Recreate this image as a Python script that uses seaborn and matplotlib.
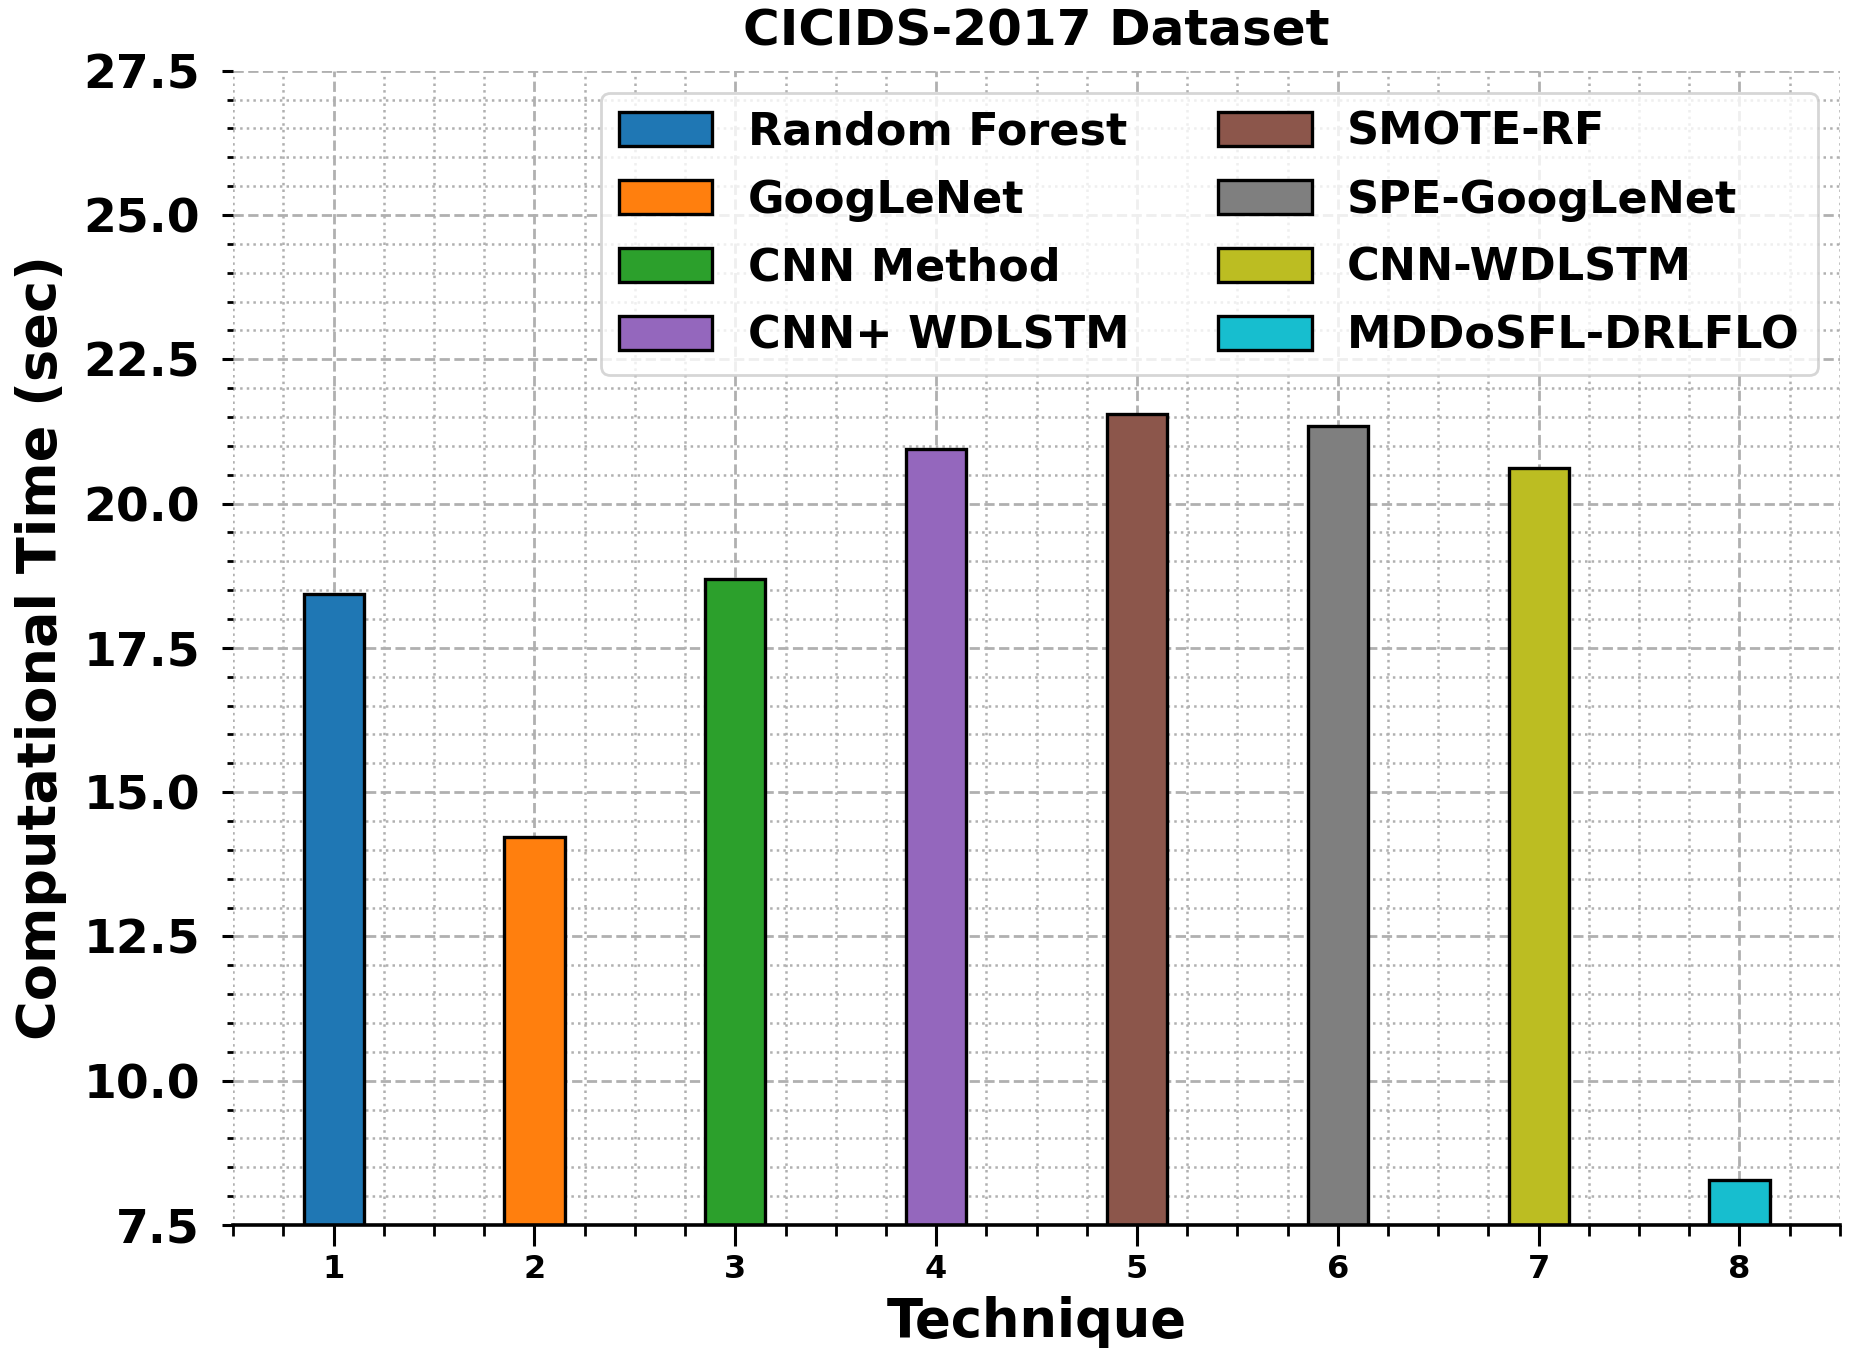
import matplotlib
matplotlib.use("Agg")
import matplotlib.pyplot as plt
from matplotlib.ticker import MultipleLocator
import seaborn as sns
import pandas as pd

# values
techniques = ["Random Forest", "GoogLeNet", "CNN Method", "CNN+ WDLSTM",
              "SMOTE-RF", "SPE-GoogLeNet", "CNN-WDLSTM", "MDDoSFL-DRLFLO"]
positions = [1, 2, 3, 4, 5, 6, 7, 8]
times = [18.44, 14.22, 18.69, 20.94, 21.56, 21.35, 20.62, 8.28]
colors = ["#1f77b4", "#ff7f0e", "#2ca02c", "#9467bd",
          "#8c564b", "#7f7f7f", "#bcbd22", "#17becf"]

df = pd.DataFrame({"Technique": positions, "Time": times, "Method": techniques})

sns.set_style("white")
plt.rcParams["font.family"] = ["DejaVu Sans"]
plt.rcParams.update({"text.color": "black", "axes.labelcolor": "black",
                     "xtick.color": "black", "ytick.color": "black"})

fig, ax = plt.subplots(figsize=(9.255, 6.795), dpi=200)
sns.barplot(data=df, x="Technique", y="Time", hue="Method", palette=colors,
            native_scale=True, dodge=False, width=0.3, saturation=1,
            edgecolor="black", linewidth=1.2, ax=ax)

ax.set_xlim(0.5, 8.5)
ax.set_ylim(7.5, 27.5)
ax.set_xticks(positions)
ax.xaxis.set_minor_locator(MultipleLocator(0.25))
ax.yaxis.set_major_locator(MultipleLocator(2.5))
ax.yaxis.set_minor_locator(MultipleLocator(0.5))

ax.set_axisbelow(True)
ax.grid(which="major", linestyle="--", color="#b0b0b0", linewidth=1.0)
ax.grid(which="minor", linestyle=":", color="#b0b0b0", linewidth=0.9)

for side in ["top", "right", "left"]:
    ax.spines[side].set_visible(False)
ax.spines["bottom"].set_linewidth(1.3)
ax.spines["bottom"].set_color("black")

ax.tick_params(axis="x", which="major", length=7.5, width=1.1, pad=3, labelsize=11.5, bottom=True)
ax.tick_params(axis="x", which="minor", length=4, width=1.0, bottom=True)
ax.tick_params(axis="y", which="major", length=4, width=1.1, pad=8, labelsize=17, left=True)
ax.tick_params(axis="y", which="minor", length=2.2, width=1.0, left=True)
for lbl in ax.get_xticklabels() + ax.get_yticklabels():
    lbl.set_fontweight("bold")

ax.set_title("CICIDS-2017 Dataset", fontsize=18, fontweight="bold", pad=9)
ax.set_xlabel("Technique", fontsize=19, fontweight="bold", labelpad=4)
ax.set_ylabel("Computational Time (sec)", fontsize=19.5, fontweight="bold", labelpad=6)

handles, labels = ax.get_legend_handles_labels()
ax.legend(handles, labels, ncol=2, loc="upper right",
          prop=dict(weight="bold", size=16), handlelength=2.1,
          handleheight=0.8, labelspacing=0.56, handletextpad=0.8,
          columnspacing=2.0)

fig.subplots_adjust(left=0.126, right=0.994, top=0.948, bottom=0.0986)
fig.savefig("out.png", dpi=200)
